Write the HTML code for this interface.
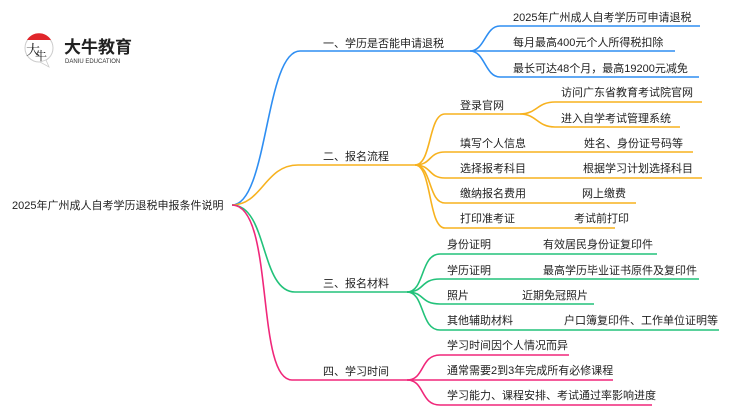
<!DOCTYPE html>
<html><head><meta charset="utf-8"><style>
html,body{margin:0;padding:0;background:#fff;}
svg{display:block}
text{font-family:"Liberation Sans","Noto Sans CJK SC",sans-serif;font-size:11px;fill:#222;}
</style></head><body>
<svg width="750" height="410" viewBox="0 0 750 410" xmlns="http://www.w3.org/2000/svg">
<!-- logo -->
<circle cx="39" cy="48" r="14" fill="#fff" stroke="#ccc" stroke-width="1"/>
<path d="M27,40 A14,14 0 0 1 51,40 Z" fill="#e0262b"/>
<path d="M40,62 L49,67 L46,60 Z" fill="#fff" stroke="#ccc" stroke-width="0.8"/>
<text x="26" y="55" style="font-size:14px;font-family:'Noto Serif CJK SC',serif;fill:#222">大</text>
<text x="35" y="60" style="font-size:12px;font-family:'Noto Serif CJK SC',serif;fill:#222">牛</text>
<text x="64" y="53" style="font-size:17px;font-weight:bold;fill:#222">大牛教育</text>
<text x="65" y="63" style="font-size:6px;fill:#333">DANIU EDUCATION</text>

<g fill="none" stroke-width="1.6">
<g stroke="#2e8ef2">
<path d="M232,205 C268,205 265,51 300,51 L470,51"/>
<path d="M470,51 C485,51 485,26 500,26 L700,26"/>
<path d="M470,51 L675,51"/>
<path d="M470,51 C485,51 485,77 500,77 L699,77"/>
</g>
<g stroke="#f7b21f">
<path d="M232,205 C262,205 265,165 298,165 L415,165"/>
<path d="M415,165 C432,165 428,114 445,114 L520,114"/>
<path d="M520,114 C537,114 537,102 555,102 L702,102"/>
<path d="M520,114 C537,114 537,127 555,127 L680,127"/>
<path d="M415,165 C432,165 428,152 445,152 L693,152"/>
<path d="M415,165 C432,165 428,178 445,178 L702,178"/>
<path d="M415,165 C432,165 428,203 445,203 L636,203"/>
<path d="M415,165 C432,165 428,228 445,228 L615,228"/>
</g>
<g stroke="#22c27a">
<path d="M232,205 C268,205 260,292 295,292 L407,292"/>
<path d="M407,292 C425,292 420,254 440,254 L657,254"/>
<path d="M407,292 C425,292 420,279 440,279 L699,279"/>
<path d="M407,292 C425,292 420,304 440,304 L594,304"/>
<path d="M407,292 C425,292 420,330 440,330 L719,330"/>
</g>
<g stroke="#f0277a">
<path d="M232,205 C275,205 255,380 292,380 L407,380"/>
<path d="M407,380 C425,380 420,355 440,355 L569,355"/>
<path d="M407,380 L613,380"/>
<path d="M407,380 C425,380 420,405 440,405 L652,405"/>
</g>
</g>

<text x="12" y="209">2025年广州成人自考学历退税申报条件说明</text>

<text x="323" y="47">一、学历是否能申请退税</text>
<text x="513" y="21">2025年广州成人自考学历可申请退税</text>
<text x="513" y="46">每月最高400元个人所得税扣除</text>
<text x="513" y="72">最长可达48个月，最高19200元减免</text>

<text x="323" y="160">二、报名流程</text>
<text x="460" y="109">登录官网</text>
<text x="561" y="96">访问广东省教育考试院官网</text>
<text x="561" y="122">进入自学考试管理系统</text>
<text x="460" y="147">填写个人信息</text>
<text x="584" y="147">姓名、身份证号码等</text>
<text x="460" y="172">选择报考科目</text>
<text x="583" y="172">根据学习计划选择科目</text>
<text x="460" y="197">缴纳报名费用</text>
<text x="582" y="197">网上缴费</text>
<text x="460" y="222">打印准考证</text>
<text x="574" y="222">考试前打印</text>

<text x="323" y="287">三、报名材料</text>
<text x="447" y="248">身份证明</text>
<text x="543" y="248">有效居民身份证复印件</text>
<text x="447" y="274">学历证明</text>
<text x="543" y="274">最高学历毕业证书原件及复印件</text>
<text x="447" y="299">照片</text>
<text x="522" y="299">近期免冠照片</text>
<text x="447" y="324">其他辅助材料</text>
<text x="564" y="324">户口簿复印件、工作单位证明等</text>

<text x="323" y="375">四、学习时间</text>
<text x="447" y="349">学习时间因个人情况而异</text>
<text x="447" y="374">通常需要2到3年完成所有必修课程</text>
<text x="447" y="399">学习能力、课程安排、考试通过率影响进度</text>
</svg>
</body></html>
